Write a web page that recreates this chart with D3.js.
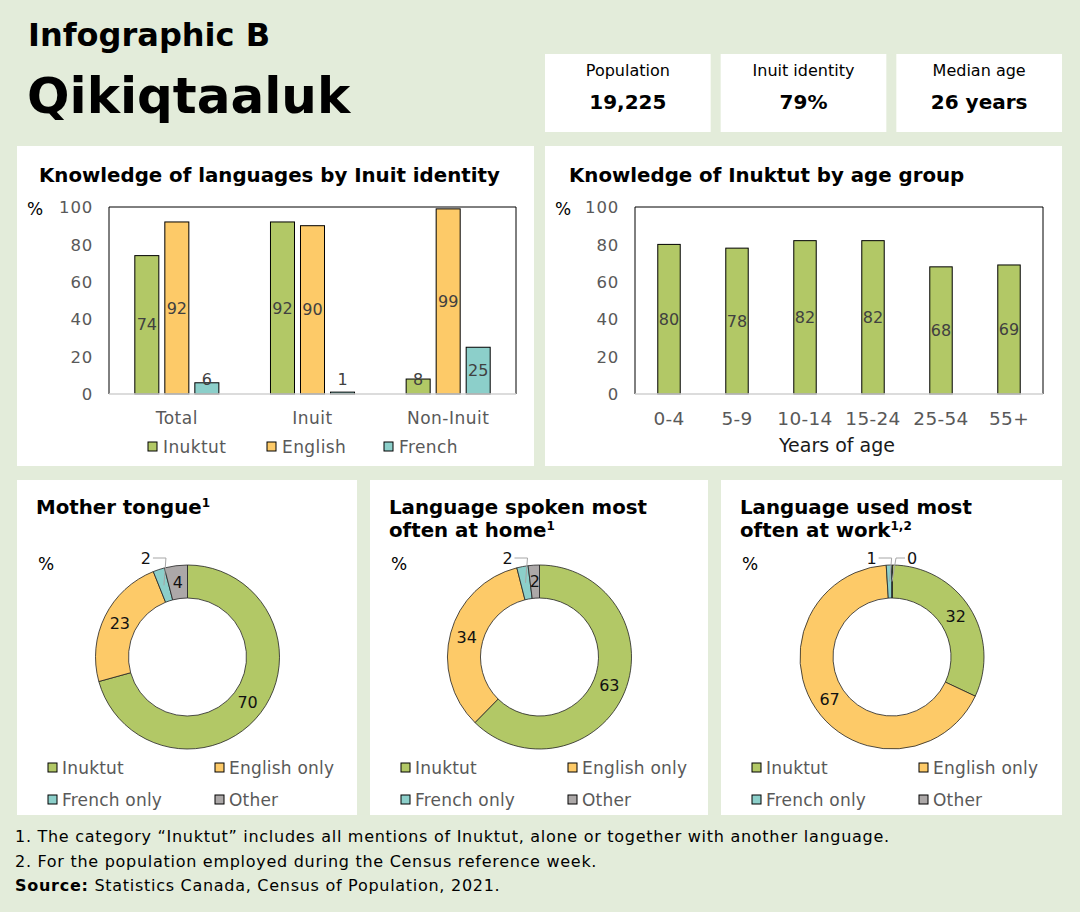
<!DOCTYPE html>
<html>
<head>
<meta charset="utf-8">
<script src="https://cdn.jsdelivr.net/npm/d3@7"></script>
<style>
  body { margin: 0; background: #e3ecda; }
  svg text { font-family: "DejaVu Sans", Verdana, sans-serif; }
</style>
</head>
<body>
<div id="chart"></div>
<script>
// data read from the infographic
const stats = ["Population", "Inuit identity", "Median age"];
const statValues = ["19,225", "79%", "26 years"];

const identityGroups = ["Total", "Inuit", "Non-Inuit"];
const languages = ["Inuktut", "English", "French"];
const inuktutByIdentity = [74, 92, 8];
const englishByIdentity = [92, 90, 99];
const frenchByIdentity = [6, 1, 25];

const ageGroups = ["0-4", "5-9", "10-14", "15-24", "25-54", "55+"];
const inuktutByAge = [80, 78, 82, 82, 68, 69];

const yTicks = [0, 20, 40, 60, 80, 100];

const donutCategories = ["Inuktut", "English only", "French only", "Other"];
const motherTongue = [70, 23, 2, 4];
const homeLanguage = [63, 34, 2, 2];
const workLanguage = [32, 67, 1, 0];

const footnotes = [
  "1. The category \u201cInuktut\u201d includes all mentions of Inuktut, alone or together with another language.",
  "2. For the population employed during the Census reference week."
];

const WIDTH = 1080;
const HEIGHT = 912;
const colors = ["#b2c866", "#fdca68", "#8ccfca", "#aca8a8"];
const tickGrey = "#595959";

const svg = d3
  .select("#chart")
  .append("svg")
  .attr("width", WIDTH)
  .attr("height", HEIGHT);

svg.append("rect").attr("width", WIDTH).attr("height", HEIGHT).attr("fill", "#e3ecda");

// header
svg.append("text").attr("x", 28).attr("y", 46)
  .style("font-size", "32px").style("font-weight", "bold").text("Infographic B");
svg.append("text").attr("x", 27).attr("y", 113)
  .style("font-size", "50px").style("font-weight", "bold").text("Qikiqtaaluk");

const statX = d3.scaleBand().domain(stats).range([545, 1062]).paddingInner(0.057);
stats.forEach((s, i) => {
  const x = statX(s);
  svg.append("rect").attr("x", x).attr("y", 54)
    .attr("width", statX.bandwidth()).attr("height", 78).attr("fill", "white");
  svg.append("text").attr("x", x + statX.bandwidth() / 2).attr("y", 76)
    .attr("text-anchor", "middle").style("font-size", "16px").text(s);
  svg.append("text").attr("x", x + statX.bandwidth() / 2).attr("y", 109)
    .attr("text-anchor", "middle").style("font-size", "20px")
    .style("font-weight", "bold").text(statValues[i]);
});

function panel(x, y, w, h) {
  svg.append("rect").attr("x", x).attr("y", y).attr("width", w).attr("height", h)
    .attr("fill", "white");
}

function title(x, y, lines, sup) {
  const t = svg.append("text").attr("x", x).attr("y", y)
    .style("font-size", "19.8px").style("font-weight", "bold");
  lines.forEach((line, i) => {
    t.append("tspan").attr("x", x).attr("dy", i === 0 ? 0 : 23).text(line);
    if (i === lines.length - 1 && sup) {
      t.append("tspan").attr("dy", -7).style("font-size", "12px").text(sup);
    }
  });
}

function frame(g, x0, x1, y) {
  g.append("path")
    .attr("d", `M${x0},${y(0)}V${y(100)}H${x1}V${y(0)}`)
    .attr("fill", "none").attr("stroke", "black").attr("stroke-width", 1);
  g.append("line").attr("x1", x0).attr("x2", x1).attr("y1", y(0)).attr("y2", y(0))
    .attr("stroke", "#d0d0d0").attr("stroke-width", 1.5);
}

function yAxis(g, x0, y, pctX) {
  const ax = g.append("g").attr("transform", `translate(${x0 - 16},0)`)
    .call(d3.axisLeft(y).tickValues(yTicks).tickSize(0).tickPadding(0));
  ax.select(".domain").remove();
  ax.selectAll("text").style("font-size", "16.5px").attr("fill", tickGrey)
    .style("letter-spacing", "0.8px")
    .attr("dy", "0.35em").style("font-family", "DejaVu Sans");
  g.append("text").attr("x", pctX).attr("y", y(100) + 8)
    .style("font-size", "17px").text("%");
}

// ---------- Knowledge of languages by Inuit identity ----------
panel(17, 146, 517, 320);
title(39, 182, ["Knowledge of languages by Inuit identity"]);

const g1 = svg.append("g");
const y1 = d3.scaleLinear().domain([0, 100]).range([394, 207]);
const x0 = d3.scaleBand().domain(identityGroups).range([109, 516]);
const xs = d3.scaleBand().domain(languages).range([0, x0.bandwidth()])
  .paddingInner(0.2).paddingOuter(0.86);
yAxis(g1, 109, y1, 27);

const seriesData = [inuktutByIdentity, englishByIdentity, frenchByIdentity];
const barRows = [];
identityGroups.forEach((grp, i) => {
  languages.forEach((lang, j) => {
    barRows.push({ grp, lang, j, value: seriesData[j][i] });
  });
});

g1.selectAll("rect.bar")
  .data(barRows)
  .enter()
  .append("rect")
  .attr("class", "bar")
  .attr("x", (d) => x0(d.grp) + xs(d.lang))
  .attr("y", (d) => y1(d.value))
  .attr("width", xs.bandwidth())
  .attr("height", (d) => y1(0) - y1(d.value))
  .attr("fill", (d) => colors[d.j])
  .attr("stroke", "black")
  .attr("stroke-width", 1);

g1.selectAll("text.lbl")
  .data(barRows)
  .enter()
  .append("text")
  .attr("class", "lbl")
  .attr("x", (d) => x0(d.grp) + xs(d.lang) + xs.bandwidth() / 2)
  .attr("y", (d) => Math.min(y1(d.value / 2), y1(0) - 15))
  .attr("dy", "0.35em")
  .attr("text-anchor", "middle")
  .attr("fill", "#404040")
  .style("font-size", "16px")
  .text((d) => d.value);

frame(g1, 109, 516, y1);

g1.selectAll("text.cat")
  .data(identityGroups)
  .enter()
  .append("text")
  .attr("class", "cat")
  .attr("x", (d) => x0(d) + x0.bandwidth() / 2)
  .attr("y", 424)
  .attr("text-anchor", "middle")
  .attr("fill", tickGrey)
  .style("font-size", "17px")
  .style("letter-spacing", "0.5px")
  .text((d) => d);

const legX = d3.scaleOrdinal().domain(languages).range([148, 267, 384]);
languages.forEach((lang, j) => {
  g1.append("rect").attr("x", legX(lang)).attr("y", 442).attr("width", 9).attr("height", 9)
    .attr("fill", colors[j]).attr("stroke", "black").attr("stroke-width", 1);
  g1.append("text").attr("x", legX(lang) + 15).attr("y", 453)
    .attr("fill", tickGrey).style("font-size", "17px")
    .style("letter-spacing", "0.4px").text(lang);
});

// ---------- Knowledge of Inuktut by age group ----------
panel(545, 146, 517, 320);
title(569, 182, ["Knowledge of Inuktut by age group"]);

const g2 = svg.append("g");
const y2 = d3.scaleLinear().domain([0, 100]).range([394, 207]);
const xa = d3.scaleBand().domain(ageGroups).range([635, 1043])
  .paddingInner(0.67).paddingOuter(0.335);
yAxis(g2, 635, y2, 555);

g2.selectAll("rect.bar")
  .data(ageGroups)
  .enter()
  .append("rect")
  .attr("class", "bar")
  .attr("x", (d) => xa(d))
  .attr("y", (d, i) => y2(inuktutByAge[i]))
  .attr("width", xa.bandwidth())
  .attr("height", (d, i) => y2(0) - y2(inuktutByAge[i]))
  .attr("fill", colors[0])
  .attr("stroke", "black")
  .attr("stroke-width", 1);

g2.selectAll("text.lbl")
  .data(ageGroups)
  .enter()
  .append("text")
  .attr("class", "lbl")
  .attr("x", (d) => xa(d) + xa.bandwidth() / 2)
  .attr("y", (d, i) => y2(inuktutByAge[i] / 2))
  .attr("dy", "0.35em")
  .attr("text-anchor", "middle")
  .attr("fill", "#404040")
  .style("font-size", "16px")
  .text((d, i) => inuktutByAge[i]);

frame(g2, 635, 1043, y2);

g2.selectAll("text.cat")
  .data(ageGroups)
  .enter()
  .append("text")
  .attr("class", "cat")
  .attr("x", (d) => xa(d) + xa.bandwidth() / 2)
  .attr("y", 425)
  .attr("text-anchor", "middle")
  .attr("fill", tickGrey)
  .style("font-size", "18.5px")
  .style("letter-spacing", "0.3px")
  .text((d) => d);

g2.append("text").attr("x", 837).attr("y", 452).attr("text-anchor", "middle")
  .style("font-size", "19px").attr("fill", "#1a1a1a").text("Years of age");

// ---------- donuts ----------
const pie = d3.pie().sort(null).value((d) => d);
const arc = d3.arc().innerRadius(59).outerRadius(92);

function donut(px, pw, lines, sup, values) {
  panel(px, 480, pw, 335);
  title(px + 19, 514, lines, sup);
  const cx = px + pw / 2 + 0.5;
  const cy = 657;
  const g = svg.append("g").attr("transform", `translate(${cx},${cy})`);
  svg.append("text").attr("x", px + 21).attr("y", 570)
    .style("font-size", "17px").text("%");

  const arcs = pie(values);
  g.selectAll("path")
    .data(arcs)
    .enter()
    .append("path")
    .attr("d", arc)
    .attr("fill", (d, i) => colors[i])
    .attr("stroke", "#222")
    .attr("stroke-width", 0.8);

  arcs.forEach((d, i) => {
    const [mx, my] = arc.centroid(d);
    const outside = donutCategories[i] === "French only" || d.value === 0;
    if (!outside) {
      g.append("text").attr("x", mx).attr("y", my).attr("dy", "0.35em")
        .attr("text-anchor", "middle").style("font-size", "16px")
        .attr("fill", "#111").text(d.value);
    } else {
      const left = donutCategories[i] === "French only";
      const lx = left ? mx - 18 : mx + 20;
      const ly = -99;
      g.append("text").attr("x", lx).attr("y", ly).attr("dy", "0.35em")
        .attr("text-anchor", "middle").style("font-size", "16px")
        .attr("fill", "#111").text(d.value);
      const sx = left ? lx + 7 : lx - 7;
      const bx = left ? mx + 2 : mx + 4;
      g.append("path")
        .attr("d", `M${sx},${ly}H${bx}L${mx},${my}`)
        .attr("fill", "none").attr("stroke", "#a6a6a6").attr("stroke-width", 1);
    }
  });

  const legPos = [[px + 31, 768], [px + 198, 768], [px + 31, 800], [px + 198, 800]];
  donutCategories.forEach((c, i) => {
    svg.append("rect").attr("x", legPos[i][0]).attr("y", legPos[i][1] - 5)
      .attr("width", 9).attr("height", 9)
      .attr("fill", colors[i]).attr("stroke", "black").attr("stroke-width", 1);
    svg.append("text").attr("x", legPos[i][0] + 14).attr("y", legPos[i][1] + 6)
      .attr("fill", tickGrey).style("font-size", "17px")
      .style("letter-spacing", "0.2px").text(c);
  });
}

donut(17, 340, ["Mother tongue"], "1", motherTongue);
donut(370, 338, ["Language spoken most", "often at home"], "1", homeLanguage);
donut(721, 341, ["Language used most", "often at work"], "1,2", workLanguage);

// ---------- footnotes ----------
footnotes.forEach((f, i) => {
  svg.append("text").attr("x", 15).attr("y", 842 + i * 25)
    .style("font-size", "16px").style("letter-spacing", "0.72px").text(f);
});
const src = svg.append("text").attr("x", 15).attr("y", 891)
  .style("font-size", "16px").style("letter-spacing", "0.72px");
src.append("tspan").style("font-weight", "bold").text("Source:");
src.append("tspan").text(" Statistics Canada, Census of Population, 2021.");
</script>
</body>
</html>
